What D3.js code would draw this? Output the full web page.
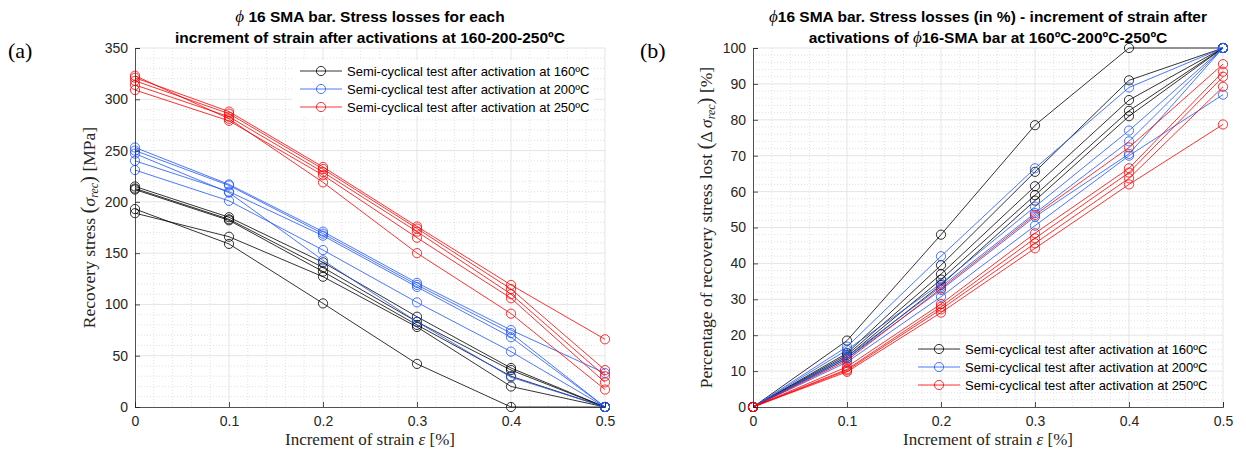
<!DOCTYPE html>
<html>
<head>
<meta charset="utf-8">
<script src="https://cdn.jsdelivr.net/npm/d3@7"></script>
<style>
  html, body { margin: 0; padding: 0; background: #fff; }
  svg { display: block; }
</style>
</head>
<body>
<svg id="fig" width="1246" height="452"></svg>
<script>
// Strain increments applied after each activation (%)
const strainSteps = [0, 0.1, 0.2, 0.3, 0.4, 0.5];

// (a) Recovery stress (MPa) per test, grouped by activation temperature
const stress160 = [
  [215, 185, 141, 88, 38, 0],
  [213, 183, 136, 83, 36, 0],
  [212, 182, 132, 80, 30, 0],
  [189, 166, 127, 78, 20, 0],
  [193, 159, 101, 42, 0, 0]
];
const stress200 = [
  [253, 217, 171, 121, 75, 33],
  [250, 216, 169, 119, 72, 0],
  [240, 210, 167, 117, 68, 0],
  [231, 201, 153, 102, 54, 0],
  [247, 209, 143, 83, 29, 0]
];
const stress250 = [
  [321, 288, 234, 176, 119, 66],
  [318, 286, 232, 174, 115, 36],
  [314, 283, 229, 171, 110, 30],
  [309, 279, 226, 165, 106, 24],
  [323, 281, 219, 150, 91, 17]
];

// (b) Percentage of recovery stress lost (%)
const loss160 = [
  [0, 18.5, 48, 78.5, 100, 100],
  [0, 15, 39.5, 65.5, 91, 100],
  [0, 14.5, 37, 61.5, 85.5, 100],
  [0, 14, 35.5, 59, 82.5, 100],
  [0, 13.5, 34, 57.5, 81, 100]
];
const loss200 = [
  [0, 16.8, 42, 66.5, 89, 100],
  [0, 15.9, 34.4, 55.8, 77, 100],
  [0, 14, 33.5, 54, 74, 100],
  [0, 13.5, 32.6, 53, 70.5, 100],
  [0, 12.5, 30.7, 50.5, 70, 87]
];
const loss250 = [
  [0, 13, 33, 53.5, 72.3, 95.5],
  [0, 11.2, 28.7, 48.4, 66.5, 93.4],
  [0, 10.5, 27.9, 47, 65.3, 92],
  [0, 10.2, 27.2, 45.6, 63.7, 89.2],
  [0, 9.8, 26.3, 44.2, 62, 78.7]
];

// Axis ticks
const strainTicks = [0, 0.1, 0.2, 0.3, 0.4, 0.5];
const stressTicks = [0, 50, 100, 150, 200, 250, 300, 350];
const lossTicks = [0, 10, 20, 30, 40, 50, 60, 70, 80, 90, 100];

const legendLabels = [
  "Semi-cyclical test after activation at 160ºC",
  "Semi-cyclical test after activation at 200ºC",
  "Semi-cyclical test after activation at 250ºC"
];
const seriesColors = ["#000000", "#1f55ff", "#ff0000"];

const svg = d3.select("#fig");
svg.append("rect").attr("width", 1246).attr("height", 452).attr("fill", "#fff");

const SANS = "'Liberation Sans', Arial, Helvetica, sans-serif";
const SERIF = "'Liberation Serif', 'Times New Roman', 'DejaVu Serif', serif";

function drawPanel(p) {
  const x = d3.scaleLinear().domain([0, 0.5]).range([p.left, p.right]);
  const y = d3.scaleLinear().domain([0, p.yMax]).range([p.bottom, p.top]);
  const g = svg.append("g");

  // minor grid
  const xMinor = d3.range(0, 0.5001, 0.02).filter(v => Math.abs(v * 10 - Math.round(v * 10)) > 1e-6);
  const yMinor = d3.range(0, p.yMax + 1e-6, p.yMinorStep).filter(v => Math.abs(v / p.yMajorStep - Math.round(v / p.yMajorStep)) > 1e-6);
  g.selectAll(".gxm").data(xMinor).join("line")
    .attr("x1", d => x(d)).attr("x2", d => x(d)).attr("y1", p.top).attr("y2", p.bottom)
    .attr("stroke", "#d4d4d4").attr("stroke-width", 0.7).attr("stroke-dasharray", "1,2");
  g.selectAll(".gym").data(yMinor).join("line")
    .attr("x1", p.left).attr("x2", p.right).attr("y1", d => y(d)).attr("y2", d => y(d))
    .attr("stroke", "#d4d4d4").attr("stroke-width", 0.7).attr("stroke-dasharray", "1,2");

  // major grid
  g.selectAll(".gx").data(strainTicks.slice(1)).join("line")
    .attr("x1", d => x(d)).attr("x2", d => x(d)).attr("y1", p.top).attr("y2", p.bottom)
    .attr("stroke", "#dedede").attr("stroke-width", 0.8);
  g.selectAll(".gy").data(p.yTicks.slice(1)).join("line")
    .attr("x1", p.left).attr("x2", p.right).attr("y1", d => y(d)).attr("y2", d => y(d))
    .attr("stroke", "#dedede").attr("stroke-width", 0.8);

  // legend background (panel a hides the grid under it)
  if (p.legendFill) {
    g.append("rect").attr("x", p.legend.x - 8).attr("y", p.legend.y - 11)
      .attr("width", 302).attr("height", 56).attr("fill", "#fff");
  }

  // series
  const line = d3.line().x((d, i) => x(strainSteps[i])).y(d => y(d));
  p.groups.forEach((grp, gi) => {
    const col = seriesColors[gi];
    grp.forEach(s => {
      g.append("path").attr("d", line(s)).attr("fill", "none")
        .attr("stroke", col).attr("stroke-width", 0.8);
      g.selectAll(null).data(s).join("circle")
        .attr("cx", (d, i) => x(strainSteps[i])).attr("cy", d => y(d)).attr("r", 4.6)
        .attr("fill", "none").attr("stroke", col).attr("stroke-width", 0.8);
    });
  });

  // axes
  const xa = g.append("g").attr("transform", `translate(0,${p.bottom})`)
    .call(d3.axisBottom(x).tickValues(strainTicks).tickFormat(d => String(d)).tickSize(-5).tickPadding(9));
  const ya = g.append("g").attr("transform", `translate(${p.left},0)`)
    .call(d3.axisLeft(y).tickValues(p.yTicks).tickFormat(d => String(d)).tickSize(-5).tickPadding(7));
  [xa, ya].forEach(a => {
    a.select(".domain").attr("stroke", "#262626").attr("stroke-width", 0.8);
    a.selectAll(".tick line").attr("stroke", "#262626").attr("stroke-width", 0.8);
    a.selectAll(".tick text").attr("fill", "#262626").style("font-family", SANS).style("font-size", "14px");
  });

  // legend
  legendLabels.forEach((lab, i) => {
    const ly = p.legend.y + i * 18;
    g.append("line").attr("x1", p.legend.x).attr("x2", p.legend.x + 42).attr("y1", ly).attr("y2", ly)
      .attr("stroke", seriesColors[i]).attr("stroke-width", 0.8);
    g.append("circle").attr("cx", p.legend.x + 21).attr("cy", ly).attr("r", 4.6)
      .attr("fill", "none").attr("stroke", seriesColors[i]).attr("stroke-width", 0.8);
    g.append("text").attr("x", p.legend.x + 47).attr("y", ly + 4.5).text(lab)
      .style("font-family", SANS).style("font-size", "13px").attr("fill", "#000");
  });

  // titles
  const cx = (p.left + p.right) / 2;
  p.title.forEach((t, i) => {
    const tt = g.append("text").attr("x", cx).attr("y", 22 + i * 21).attr("text-anchor", "middle")
      .style("font-family", SANS).style("font-size", "15.5px").style("font-weight", "bold").attr("fill", "#000");
    t.forEach(part => {
      const sp = tt.append("tspan").text(part.t);
      if (part.phi) sp.style("font-family", SERIF).style("font-style", "italic").style("font-weight", "normal").style("font-size", "17px");
    });
  });

  // x axis title
  const xt = g.append("text").attr("x", cx).attr("y", 445).attr("text-anchor", "middle")
    .style("font-family", SERIF).style("font-size", "17px").attr("fill", "#262626");
  xt.append("tspan").text("Increment of strain ");
  xt.append("tspan").text("ε").style("font-style", "italic");
  xt.append("tspan").text(" [%]");

  // y axis title
  const cy = (p.top + p.bottom) / 2;
  const yt = g.append("text").attr("transform", `translate(${p.yLabelX},${cy}) rotate(-90)`)
    .attr("text-anchor", "middle").style("font-family", SERIF).style("font-size", "17.5px").attr("fill", "#262626");
  yt.append("tspan").text(p.yLabelPre);
  yt.append("tspan").text("(").style("font-size", "21px");
  if (p.delta) yt.append("tspan").text("Δ ");
  yt.append("tspan").text("σ").style("font-style", "italic");
  yt.append("tspan").text("rec").style("font-style", "italic").style("font-size", "12px").attr("dy", 3);
  yt.append("tspan").text(")").style("font-size", "21px").attr("dy", -3);
  yt.append("tspan").text(" [" + p.unit + "]");

  // panel letter
  g.append("text").attr("x", p.letterX).attr("y", 58).text(p.letter)
    .style("font-family", SERIF).style("font-size", "22px").attr("fill", "#000");
}

drawPanel({
  left: 135, right: 605, top: 48, bottom: 407,
  yMax: 350, yTicks: stressTicks, yMajorStep: 50, yMinorStep: 10,
  groups: [stress160, stress200, stress250],
  legend: { x: 300, y: 71 }, legendFill: true,
  title: [
    [{ t: "ϕ", phi: true }, { t: " 16 SMA bar. Stress losses for each" }],
    [{ t: "increment of strain after activations at 160-200-250ºC" }]
  ],
  yLabelX: 95, yLabelPre: "Recovery stress ", unit: "MPa", delta: false,
  letter: "(a)", letterX: 8
});

drawPanel({
  left: 753, right: 1223, top: 48, bottom: 407,
  yMax: 100, yTicks: lossTicks, yMajorStep: 10, yMinorStep: 2,
  groups: [loss160, loss200, loss250],
  legend: { x: 918, y: 349 }, legendFill: false,
  title: [
    [{ t: "ϕ", phi: true }, { t: "16 SMA bar. Stress losses (in %) - increment of strain after" }],
    [{ t: "activations of " }, { t: "ϕ", phi: true }, { t: "16-SMA bar at 160ºC-200ºC-250ºC" }]
  ],
  yLabelX: 712, yLabelPre: "Percentage of recovery stress lost ", unit: "%", delta: true,
  letter: "(b)", letterX: 640
});
</script>
</body>
</html>
